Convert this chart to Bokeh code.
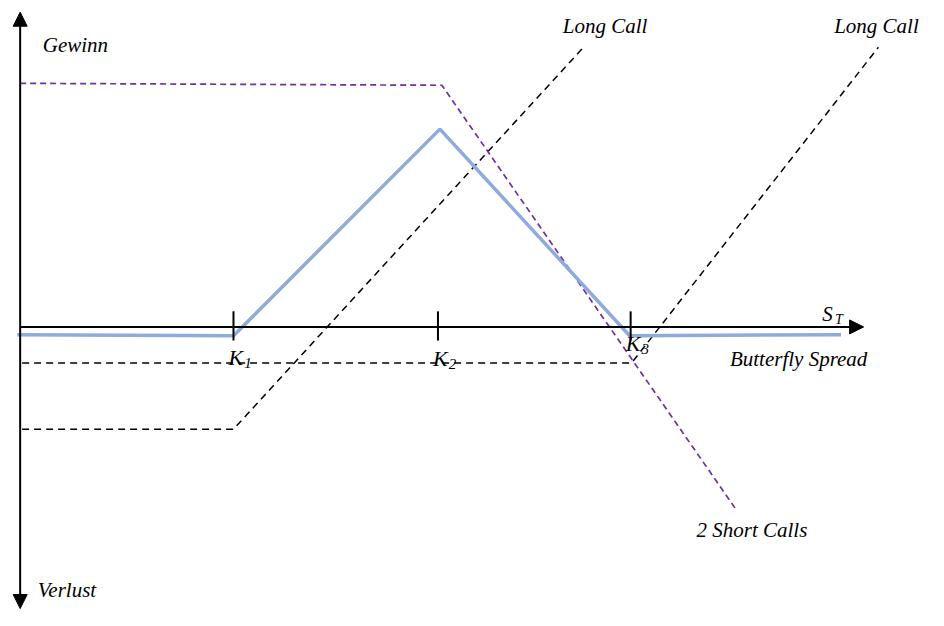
from bokeh.plotting import figure
from bokeh.models import Range1d, Arrow, NormalHead
from bokeh.core.properties import value
from bokeh.embed import file_html
from bokeh.resources import INLINE

# ---- data (x = S_T, y = profit) ----
strikes = [217, 425, 621]
strike_names = ["K", "K", "K"]
strike_subs = ["1", "2", "3"]

butterfly_x = [-3, 217, 427, 620, 835]
butterfly_y = [-8, -9, 203, -9, -8]

short_calls_x = [0, 429, 728]
short_calls_y = [250, 248, -187]

long_call1_x = [2, 217, 574]
long_call1_y = [-105, -105, 288]

long_call3_x = [2, 622, 873]
long_call3_y = [-37, -37, 287]

axis_x_end = 858
axis_y_top = 323
axis_y_bottom = -289

label_texts = ["Gewinn", "Verlust", "Long Call", "Long Call", "Butterfly Spread", "2 Short Calls"]
label_x = [23, 18, 552, 828, 722, 688]
label_y = [289, -270, 309, 309, -33, -208]

FONT = value("Liberation Serif")

p = figure(width=928, height=610, output_backend="svg", toolbar_location=None,
           x_range=Range1d(-20, 924), y_range=Range1d(-291, 335),
           min_border=0, outline_line_color=None)
p.axis.visible = False
p.grid.visible = False
p.background_fill_color = "white"

# payoff lines
p.line(long_call1_x, long_call1_y, line_color="black", line_width=1.5, line_dash="7 5")
p.line(long_call3_x, long_call3_y, line_color="black", line_width=1.5, line_dash="7 5")
p.line(short_calls_x, short_calls_y, line_color="#7030A0", line_width=1.7, line_dash="6 4")
p.line(butterfly_x, butterfly_y, line_color="#8FAADC", line_width=3.5)

# axes with arrows
p.add_layout(Arrow(end=NormalHead(size=14, fill_color="black", line_color="black"),
                   x_start=0, y_start=0, x_end=axis_x_end, y_end=0,
                   line_color="black", line_width=2))
p.add_layout(Arrow(start=NormalHead(size=14, fill_color="black", line_color="black"),
                   end=NormalHead(size=14, fill_color="black", line_color="black"),
                   x_start=0, y_start=axis_y_bottom, x_end=0, y_end=axis_y_top,
                   line_color="black", line_width=2))

# strike ticks
p.segment(x0=strikes, y0=[16] * 3, x1=strikes, y1=[-14] * 3, line_color="black", line_width=2)

# strike labels
k_label_x = [k - 5 for k in strikes]
k_label_y = [-31, -32, -17]
p.text(k_label_x, k_label_y, text=strike_names, text_font=FONT, text_font_style="italic",
       text_font_size="22px", text_align="left", text_baseline="middle", text_color="black")
p.text([k + 11 for k in strikes], [y - 6 for y in k_label_y], text=strike_subs, text_font=FONT,
       text_font_style="italic", text_font_size="15px", text_align="left",
       text_baseline="middle", text_color="black")

# S_T label
p.text([816], [13], text=["S"], text_font=FONT, text_font_style="italic",
       text_font_size="21px", text_align="left", text_baseline="middle", text_color="black")
p.text([829], [8], text=["T"], text_font=FONT, text_font_style="italic",
       text_font_size="14px", text_align="left", text_baseline="middle", text_color="black")

# other labels
p.text(label_x, label_y, text=label_texts, text_font=FONT, text_font_style="italic",
       text_font_size="21px", text_align="left", text_baseline="middle", text_color="black")

open("out.html", "w").write(file_html(p, INLINE))
